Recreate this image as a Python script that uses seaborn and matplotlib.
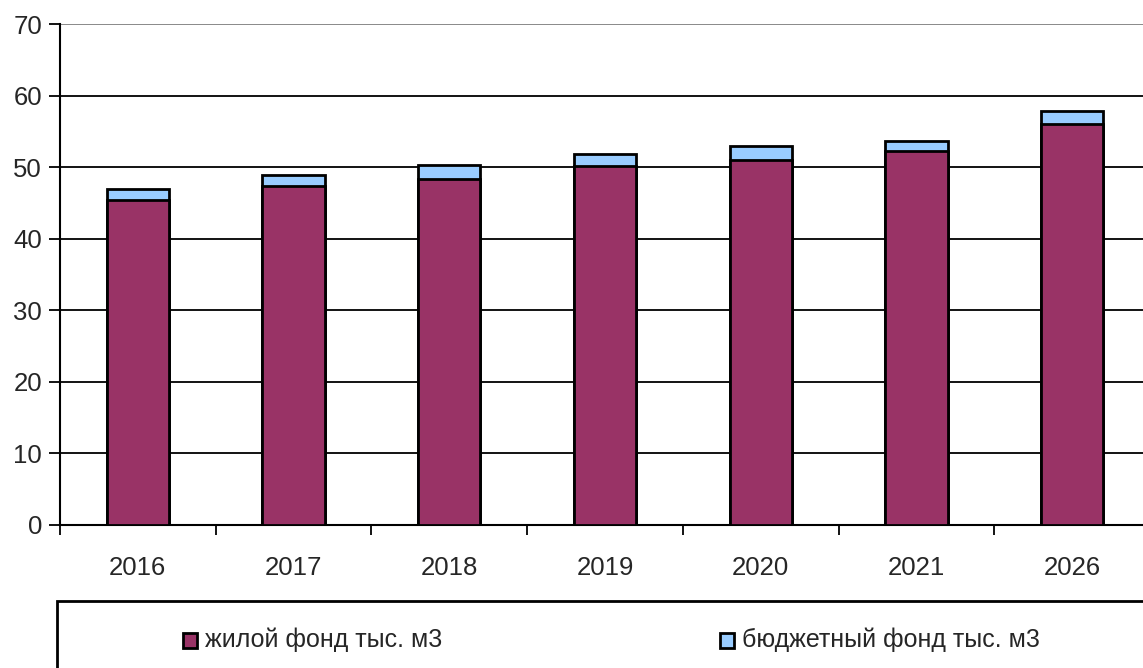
import matplotlib
matplotlib.use("Agg")
from matplotlib import pyplot as plt
from matplotlib.patches import Rectangle
import matplotlib.ticker as mticker
import pandas as pd
import seaborn as sns

years = ["2016", "2017", "2018", "2019", "2020", "2021", "2026"]
housing = [45.4, 47.3, 48.4, 50.2, 51.0, 52.2, 56.0]
budget = [1.6, 1.6, 1.9, 1.6, 1.9, 1.5, 1.8]
labels = ["жилой фонд тыс. м3", "бюджетный фонд тыс. м3"]

df = pd.DataFrame({"year": years, "housing": housing, "budget": budget})
df["total"] = df["housing"] + df["budget"]

sns.set_style("white")
plt.rcParams["font.family"] = ["Liberation Sans", "DejaVu Sans"]

purple = "#993366"
blue = "#99CCFF"

fig = plt.figure(figsize=(11.43, 6.68), dpi=100)
ax = fig.add_axes([60 / 1143, 1 - 525 / 668, 1090 / 1143, 501 / 668])

sns.barplot(data=df, x="year", y="total", color=blue, width=0.4,
            edgecolor="black", linewidth=2, ax=ax, saturation=1, zorder=3)
sns.barplot(data=df, x="year", y="housing", color=purple, width=0.4,
            edgecolor="black", linewidth=2, ax=ax, saturation=1, zorder=4)

ax.set_ylim(0, 70)
ax.set_xlim(-0.5, len(years) - 0.5)
ax.set_yticks(range(0, 71, 10))
for y in range(10, 61, 10):
    ax.axhline(y, color="black", lw=1.3, zorder=1)
ax.axhline(70, color="#808080", lw=1.3, zorder=1)

ax.set_xlabel("")
ax.set_ylabel("")
ax.tick_params(axis="y", labelsize=18.5, length=8, width=1.3, direction="out",
               left=True, color="black", pad=5)
ax.tick_params(axis="x", which="major", labelsize=18.5, length=0, pad=22)
ax.xaxis.set_minor_locator(mticker.FixedLocator([i - 0.5 for i in range(len(years) + 1)]))
ax.tick_params(axis="x", which="minor", length=7, width=1.3, direction="out",
               bottom=True, color="black")

for s in ["top", "right"]:
    ax.spines[s].set_visible(False)
for s in ["left", "bottom"]:
    ax.spines[s].set_color("black")
    ax.spines[s].set_linewidth(1.5)

# legend box
fig.patches.append(Rectangle((57 / 1143, -0.1), 1.0, 0.1 + 67 / 668,
                             transform=fig.transFigure, fill=False,
                             edgecolor="black", lw=2))
for xs, c, lab in [(183, purple, labels[0]), (720, blue, labels[1])]:
    fig.patches.append(Rectangle((xs / 1143, 1 - 648 / 668), 14 / 1143, 15 / 668,
                                 transform=fig.transFigure, facecolor=c,
                                 edgecolor="black", lw=2))
    fig.text((xs + 22) / 1143, 1 - 640 / 668, lab, fontsize=18,
             family=["Liberation Sans Narrow", "Liberation Sans", "DejaVu Sans"],
             va="center", ha="left")

fig.savefig("out.png", dpi=100)
